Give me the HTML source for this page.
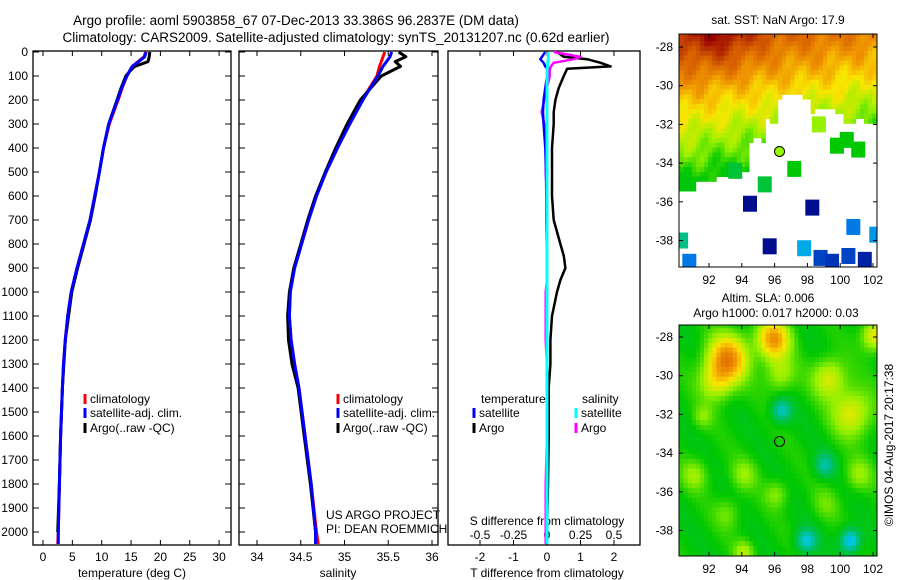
<!DOCTYPE html>
<html><head><meta charset="utf-8"><style>
body{margin:0;background:#fff;}
svg{display:block;font-family:"Liberation Sans",sans-serif;}
text{fill:#000;}
</style></head><body>
<svg id="s" width="900" height="580" viewBox="0 0 900 580" xmlns="http://www.w3.org/2000/svg">
<text x="296" y="25" font-size="13.5" text-anchor="middle">Argo profile: aoml 5903858_67 07-Dec-2013 33.386S 96.2837E (DM data)</text>
<text x="336" y="42" font-size="13.5" text-anchor="middle">Climatology: CARS2009. Satellite-adjusted climatology: synTS_20131207.nc (0.62d earlier)</text>
<g id="g"></g>
</svg>
<script>
// ---------- data ----------
const depthTicks=[0,100,200,300,400,500,600,700,800,900,1000,1100,1200,1300,1400,1500,1600,1700,1800,1900,2000];
const tempTicks=[0,5,10,15,20,25,30];
const salTicks=[34,34.5,35,35.5,36];
const tdiffTicks=[-2,-1,0,1,2];
const sdiffTicks=[-0.5,-0.25,0,0.25,0.5];
const tempDepth=[0,20,40,60,100,150,200,300,400,500,600,700,800,900,1000,1100,1200,1300,1400,1600,1800,2000,2050];
const tempClim=[17.5,17.2,16.2,15.2,14.3,13.5,12.8,11.3,10.3,9.6,8.8,8.0,6.9,5.8,4.8,4.2,3.8,3.5,3.3,3.0,2.8,2.6,2.5];
const tempSat=[17.6,17.3,16.3,15.2,14.3,13.4,12.7,11.2,10.3,9.6,8.8,8.0,6.9,5.8,4.8,4.2,3.8,3.5,3.3,3.0,2.8,2.6,2.6];
const tempArgoDepth=[0,20,40,50,60,80,100,150,200,300,400,500,600,700,800,900,1000,1200,1400,1600,1800,2000];
const tempArgo=[18.2,18.1,17.9,16.8,15.6,14.8,14.1,13.3,12.6,11.2,10.3,9.6,8.9,8.1,7.0,5.9,4.9,3.8,3.3,3.0,2.8,2.5];
const salDepth=[0,20,40,60,100,200,300,400,500,600,700,800,900,1000,1100,1200,1300,1400,1600,1800,2000,2050];
const salClim=[35.46,35.44,35.42,35.40,35.37,35.20,35.05,34.92,34.79,34.68,34.59,34.51,34.43,34.38,34.37,34.39,34.43,34.48,34.55,34.62,34.68,34.70];
const salSat=[35.54,35.52,35.48,35.44,35.38,35.21,35.06,34.92,34.79,34.68,34.59,34.51,34.43,34.38,34.37,34.39,34.43,34.48,34.55,34.62,34.67,34.67];
const salArgo=[35.62,35.70,35.58,35.64,35.42,35.18,35.03,34.90,34.78,34.67,34.58,34.50,34.42,34.37,34.35,34.36,34.40,34.47,34.54,34.61,34.67,34.67];
const diffDepth=[0,20,30,45,60,70,100,150,200,250,300,400,500,600,700,800,850,900,950,1000,1100,1200,1300,1400,1600,1800,2000,2050];
const tDiffArgo=[0.3,0.5,1.2,1.6,1.9,0.6,0.5,0.35,0.25,0.2,0.2,0.15,0.15,0.15,0.2,0.4,0.5,0.55,0.4,0.3,0.15,0.1,0.1,0.05,0.05,0.03,0.0,0.0];
const tDiffSat=[-0.05,-0.15,-0.2,-0.1,-0.05,0,0,-0.05,-0.1,-0.12,-0.1,-0.05,-0.03,-0.02,-0.02,-0.01,0,0,0,0,0,0,0,0,0,0,0,0];
const sDiffArgo=[0.05,0.25,0.2,0.05,0.03,0.02,0.02,0.0,-0.02,-0.04,-0.02,0,-0.01,0,0,0,0,0,0,-0.01,-0.01,-0.01,0,0,0,-0.01,-0.01,-0.01];
const sDiffSat=[0.01,0.01,0.01,0.005,0.005,0,0,0,0,0,0,0,0,0,0,0,0,0,0,0,0,0,0,0,0,0,0,0];
const lonTicks=[92,94,96,98,100,102];
const latTicks=[-28,-30,-32,-34,-36,-38];
// ---------- helpers ----------
const NS='http://www.w3.org/2000/svg';const G=document.getElementById('g');
function mk(tag,attrs,parent){const e=document.createElementNS(NS,tag);for(const k in attrs)e.setAttribute(k,attrs[k]);(parent||G).appendChild(e);return e;}
function txt(x,y,s,size,anchor,parent){const t=mk('text',{x:x,y:y,'font-size':size||12,'text-anchor':anchor||'middle'},parent);t.textContent=s;return t;}
const yD=d=>52+d*0.24;
const TOP=51,BOT=545;
function frame(x0,x1,name){const r=mk('rect',{x:x0,y:TOP,width:x1-x0,height:BOT-TOP,fill:'none',stroke:'#000','stroke-width':1.3});}
function line(xs,ds,color,sx,name,w){const p=xs.map((v,i)=>(i?'L':'M')+sx(v).toFixed(1)+','+yD(ds[i]).toFixed(1)).join('');const e=mk('path',{d:p,fill:'none',stroke:color,'stroke-width':w||3,'stroke-linejoin':'round'});}
function legend(x,y,color,label,name){const g=mk('g',{});mk('rect',{x:x-1.5,y:y-9,width:3,height:10,fill:color},g);txt(x+5,y,label,12,'start',g);}
// depth axis
depthTicks.forEach(d=>{txt(28,yD(d)+4,String(d),12,'end');mk('line',{x1:33,x2:39,y1:yD(d),y2:yD(d),stroke:'#000'});mk('line',{x1:231,x2:225,y1:yD(d),y2:yD(d),stroke:'#000'});mk('line',{x1:239,x2:245,y1:yD(d),y2:yD(d),stroke:'#000'});mk('line',{x1:438,x2:432,y1:yD(d),y2:yD(d),stroke:'#000'});});
// panel 1 temperature
const xT=v=>43+v*5.87;
frame(33,231,'temperature-panel');
tempTicks.forEach(v=>{txt(xT(v),561,String(v),12);mk('line',{x1:xT(v),x2:xT(v),y1:BOT,y2:BOT-5,stroke:'#000'});mk('line',{x1:xT(v),x2:xT(v),y1:TOP,y2:TOP+5,stroke:'#000'});});
txt(132,577,'temperature (deg C)',12);
line(tempClim,tempDepth,'#f00',xT,'temp-climatology-line');
line(tempArgo,tempArgoDepth,'#000',xT,'temp-argo-line');
line(tempSat,tempDepth,'#00f',xT,'temp-satellite-line');
legend(85,403,'#f00','climatology','legend-climatology');
legend(85,417,'#00f','satellite-adj. clim.','legend-satellite');
legend(85,432,'#000','Argo(..raw -QC)','legend-argo');
// panel 2 salinity
const xS=v=>257+(v-34)*87.5;
frame(239,438,'salinity-panel');
salTicks.forEach(v=>{txt(xS(v),561,String(v),12);mk('line',{x1:xS(v),x2:xS(v),y1:BOT,y2:BOT-5,stroke:'#000'});mk('line',{x1:xS(v),x2:xS(v),y1:TOP,y2:TOP+5,stroke:'#000'});});
txt(338,577,'salinity',12);
line(salClim,salDepth,'#f00',xS,'sal-climatology-line');
line(salArgo,salDepth,'#000',xS,'sal-argo-line');
line(salSat,salDepth,'#00f',xS,'sal-satellite-line');
legend(338,403,'#f00','climatology','legend2-climatology');
legend(338,417,'#00f','satellite-adj. clim.','legend2-satellite');
legend(338,432,'#000','Argo(..raw -QC)','legend2-argo');
const pi=mk('g',{});
txt(326,519,'US ARGO PROJECT',12,'start',pi);txt(326,533,'PI: DEAN ROEMMICH',12,'start',pi);
// panel 3 differences
const xTd=v=>547+v*33.5;const xSd=v=>547+v*134;
frame(448,640,'difference-panel');
tdiffTicks.forEach(v=>{txt(xTd(v),561,String(v),12);mk('line',{x1:xTd(v),x2:xTd(v),y1:BOT,y2:BOT-5,stroke:'#000'});mk('line',{x1:xTd(v),x2:xTd(v),y1:TOP,y2:TOP+5,stroke:'#000'});});
sdiffTicks.forEach(v=>{txt(xSd(v),539,String(v),12);});
txt(547,525,'S difference from climatology',12);
txt(547,577,'T difference from climatology',12);
line(tDiffArgo,diffDepth,'#000',xTd,'tdiff-argo-line',2.5);
line(sDiffArgo,diffDepth,'#f0f',xSd,'sdiff-argo-line',2.5);
line(tDiffSat,diffDepth,'#00f',xTd,'tdiff-satellite-line',2.5);
line(sDiffSat,diffDepth,'#0ff',xSd,'sdiff-satellite-line',3);
txt(481,403,'temperature',12,'start');txt(582,403,'salinity',12,'start');
legend(474,417,'#00f','satellite','legend3-t-satellite');
legend(474,432,'#000','Argo','legend3-t-argo');
legend(576,417,'#0ff','satellite','legend3-s-satellite');
legend(576,432,'#f0f','Argo','legend3-s-argo');
// ---------- maps ----------
const CM=[[0,0,0,130],[0.15,0,100,230],[0.25,0,200,230],[0.35,0,190,110],[0.45,0,200,0],[0.55,150,240,0],[0.65,250,230,0],[0.75,240,150,0],[0.85,215,95,0],[1,150,0,0]];
function cmap(t){t=Math.max(0,Math.min(1,t));for(let i=1;i<CM.length;i++){if(t<=CM[i][0]){const a=CM[i-1],b=CM[i],f=(t-a[0])/(b[0]-a[0]);return 'rgb('+[1,2,3].map(k=>Math.round(a[k]+(b[k]-a[k])*f)).join(',')+')';}}return 'rgb(150,0,0)';}
const MX0=679,MX1=877;const xL=lon=>709+(lon-92)*16.4;
function makeMap(top,bot,lat28,name){const g=mk('g',{});const yL=lat=>lat28+(-28-lat)*19.35;return {g,yL,top,bot};}
// SST map
const m1=makeMap(34,267,47,'sst-map');
const cl1=mk('clipPath',{id:'c1'});mk('rect',{x:MX0,y:34,width:MX1-MX0,height:233},cl1);
const c1g=mk('g',{'clip-path':'url(#c1)'},m1.g);
function edge(lon){if(lon<91)return -35.4;if(lon<93)return -34.8;if(lon<94.3)return -34.3;if(lon<95.3)return -32.8;if(lon<96.2)return -31.6;if(lon<98)return -30.4;if(lon<100)return -31.2;return -31.8;}
for(let lon=90.2;lon<102.3;lon+=0.25){for(let lat=-27.2;lat>-39.3;lat-=0.25){
 if(lat<edge(lon)+0.15*Math.sin(lon*3))continue;
 let t=0.68+(lat+31)*0.06-(lon-90)*0.01+0.025*Math.sin(lon*2.3+lat*1.7)+0.02*Math.cos(lon*5.1-lat*3.3);
 if(lat>-30)t+=0.08*Math.exp(-((lon-92.5)**2)/4)*(lat+30)/2;
 t=Math.max(t,0.44);
 mk('rect',{x:xL(lon).toFixed(1),y:m1.yL(lat).toFixed(1),width:4.4,height:5.2,fill:cmap(t)},c1g);}}
const isl=[[93.6,-34.4,0.4],[95.4,-35.1,0.4],[97.2,-34.3,0.45],[99.8,-33.1,0.45],[100.4,-32.8,0.45],[101.1,-33.3,0.45],[98.7,-32,0.55],[94.5,-36.1,0.02],[98.3,-36.3,0.02],[100.8,-37.3,0.17],[102.2,-37.7,0.2],[90.3,-38,0.33],[95.7,-38.3,0.02],[97.8,-38.4,0.22],[98.8,-38.9,0.1],[100.5,-38.8,0.1],[101.5,-39,0.05],[90.8,-39.1,0.17],[99.5,-39.1,0.08]];
isl.forEach(a=>mk('rect',{x:xL(a[0])-7,y:m1.yL(a[1])-8,width:14,height:16,fill:cmap(a[2])},c1g));
mk('circle',{cx:xL(96.3),cy:m1.yL(-33.4),r:5,fill:'#9f0',stroke:'#000','stroke-width':1},m1.g);
txt(778,24,'sat. SST: NaN Argo: 17.9',12);
// SLA map
const m2=makeMap(325,556,337,'sla-map');
const cl2=mk('clipPath',{id:'c2'});mk('rect',{x:MX0,y:325,width:MX1-MX0,height:231},cl2);
const c2g=mk('g',{'clip-path':'url(#c2)'},m2.g);
const blobs=[[93,-29,0.32,1.2],[92.3,-30.2,0.15,1],[95.8,-28,0.3,1.0],[96.2,-29.8,0.12,0.9],[99.2,-30,0.17,1],[100.6,-31.8,0.18,1.2],[102,-27.8,0.2,0.8],[96.3,-31.7,-0.17,0.6],[98.9,-34.5,-0.14,0.6],[97.8,-38.4,-0.2,0.6],[100.5,-38.4,-0.24,0.6],[91,-35,0.1,0.8],[94,-35,0.09,0.8],[96,-36,0.09,0.7],[101,-35,0.1,0.8],[94,-39,0.12,0.6],[91.5,-32,0.08,0.6],[93,-37,0.07,0.8],[99,-36.5,0.06,0.8]];
for(let lon=90.2;lon<102.3;lon+=0.25){for(let lat=-27.3;lat>-39.3;lat-=0.25){
 let v=0.45+0.02*Math.sin(lon*1.7+lat*1.3);blobs.forEach(b=>{const d2=((lon-b[0])**2+(lat-b[1])**2)/(b[3]*b[3]);v+=b[2]*Math.exp(-d2);});
 mk('rect',{x:xL(lon).toFixed(1),y:m2.yL(lat).toFixed(1),width:4.4,height:5.2,fill:cmap(v)},c2g);}}
mk('circle',{cx:xL(96.3),cy:m2.yL(-33.4),r:5,fill:'none',stroke:'#000','stroke-width':1},m2.g);
txt(768,302,'Altim. SLA: 0.006',12);txt(776,317,'Argo h1000: 0.017 h2000: 0.03',12);
// map axes
[[m1,34,267],[m2,325,556]].forEach(([m,t,b])=>{
 mk('rect',{x:MX0,y:t,width:MX1-MX0,height:b-t,fill:'none',stroke:'#000','stroke-width':1},m.g);
 lonTicks.forEach(v=>{txt(xL(v),b+17,String(v),12);mk('line',{x1:xL(v),x2:xL(v),y1:b,y2:b-4,stroke:'#000'},m.g);mk('line',{x1:xL(v),x2:xL(v),y1:t,y2:t+4,stroke:'#000'},m.g);});
 latTicks.forEach(v=>{txt(673,m.yL(v)+4,String(v),12,'end');mk('line',{x1:MX0,x2:MX0+4,y1:m.yL(v),y2:m.yL(v),stroke:'#000'},m.g);mk('line',{x1:MX1,x2:MX1-4,y1:m.yL(v),y2:m.yL(v),stroke:'#000'},m.g);});
});
const cr=txt(0,0,'©IMOS 04-Aug-2017 20:17:38',12);cr.setAttribute('transform','translate(893,445) rotate(-90)');


</script>
</body></html>
